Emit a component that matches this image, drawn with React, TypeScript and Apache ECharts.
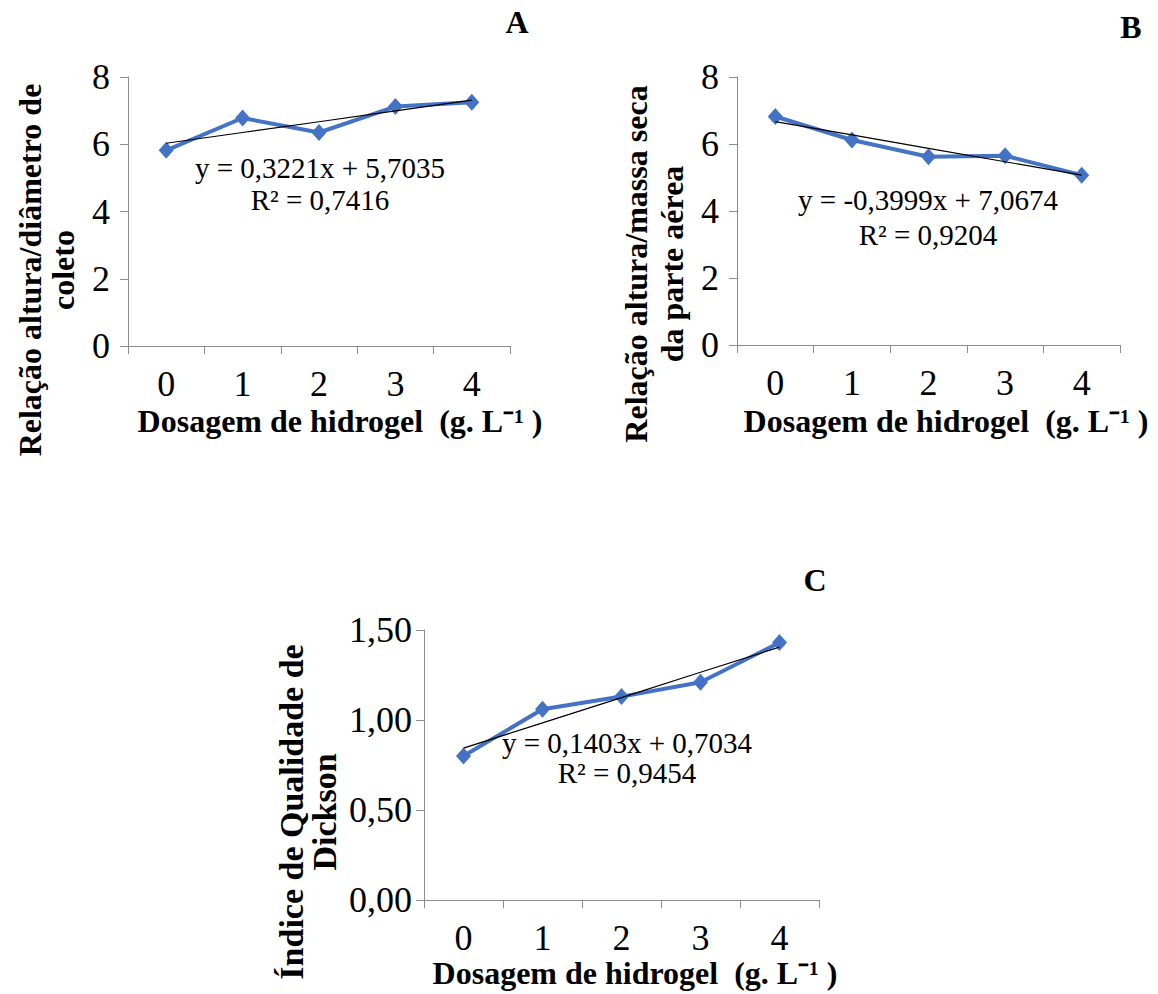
import React, { useEffect, useRef } from "react";
import * as echarts from "echarts";

const categories = ["0", "1", "2", "3", "4"];
const valuesA = [5.82, 6.78, 6.35, 7.12, 7.25];
const trendA = [6.03, 6.35, 6.67, 6.99, 7.31];
const valuesB = [6.82, 6.12, 5.62, 5.65, 5.07];
const trendB = [6.67, 6.27, 5.87, 5.47, 5.07];
const valuesC = [0.8, 1.06, 1.13, 1.21, 1.43];
const trendC = [0.844, 0.984, 1.124, 1.265, 1.405];

const eqA = ["y = 0,3221x + 5,7035", "R² = 0,7416"];
const eqB = ["y = -0,3999x + 7,0674", "R² = 0,9204"];
const eqC = ["y = 0,1403x + 0,7034", "R² = 0,9454"];

const xTitle = "Dosagem de hidrogel  (g. L⁻¹ )";
const yTitleA = "Relação altura/diâmetro de\ncoleto";
const yTitleB = "Relação altura/massa seca\nda parte aérea";
const yTitleC = "Índice de Qualidade de\nDickson";

const SERIF = "Liberation Serif";
const AXIS_COLOR = "#8c8c8c";
const BLUE = "#4472C4";

export default function App() {
  const ref = useRef<HTMLDivElement>(null);

  useEffect(() => {
    if (!ref.current) return;
    const chart = echarts.init(ref.current, null, { renderer: "svg" });

    const grids = [
      { left: 128, top: 77, width: 382, height: 269 },
      { left: 737, top: 77, width: 383, height: 268 },
      { left: 424, top: 630, width: 395, height: 270 },
    ];

    const labelStyle = { color: "#000", fontSize: 36, fontFamily: SERIF, fontWeight: "normal" };

    const xAxis = grids.map((_, i) => ({
      type: "category",
      gridIndex: i,
      data: categories,
      boundaryGap: true,
      axisLine: { show: true, lineStyle: { color: AXIS_COLOR, width: 1 } },
      axisTick: { show: true, length: 8, lineStyle: { color: AXIS_COLOR } },
      axisLabel: { ...labelStyle, margin: 20 },
      splitLine: { show: false },
    }));

    const yCommon = {
      type: "value",
      min: 0,
      axisLine: { show: true, lineStyle: { color: AXIS_COLOR, width: 1 } },
      axisTick: { show: true, length: 8, lineStyle: { color: AXIS_COLOR } },
      splitLine: { show: false },
    };
    const yAxis = [
      { ...yCommon, gridIndex: 0, max: 8, interval: 2, axisLabel: { ...labelStyle, margin: 18 } },
      { ...yCommon, gridIndex: 1, max: 8, interval: 2, axisLabel: { ...labelStyle, margin: 18 } },
      {
        ...yCommon,
        gridIndex: 2,
        max: 1.5,
        interval: 0.5,
        axisLabel: {
          ...labelStyle,
          margin: 12,
          formatter: (v: number) => v.toFixed(2).replace(".", ","),
        },
      },
    ];

    const dataSets = [
      [valuesA, trendA],
      [valuesB, trendB],
      [valuesC, trendC],
    ];
    const series: any[] = [];
    dataSets.forEach(([vals, trend], i) => {
      series.push({
        type: "line",
        xAxisIndex: i,
        yAxisIndex: i,
        data: vals,
        symbol: "diamond",
        symbolSize: [15, 17],
        itemStyle: { color: BLUE },
        lineStyle: { color: BLUE, width: 4 },
        z: 2,
      });
      series.push({
        type: "line",
        xAxisIndex: i,
        yAxisIndex: i,
        data: trend,
        symbol: "none",
        lineStyle: { color: "#000", width: 1.2 },
        z: 3,
      });
    });

    const txt = (x: number, y: number, text: string, size: number, bold: boolean, rot = 0, lh = 30) => ({
      type: "text",
      x,
      y,
      rotation: rot,
      z: 10,
      style: {
        text,
        fill: "#000",
        fontSize: size,
        fontWeight: bold ? "bold" : "normal",
        fontFamily: SERIF,
        align: "center",
        verticalAlign: "middle",
        lineHeight: lh,
      },
    });

    const graphic = [
      txt(517, 22, "A", 32, true),
      txt(1131, 27, "B", 32, true),
      txt(815, 580, "C", 32, true),
      txt(340, 421, xTitle, 32, true),
      txt(946, 421, xTitle, 32, true),
      txt(635, 973, xTitle, 32, true),
      txt(46, 270, yTitleA, 32, true, Math.PI / 2, 33),
      txt(654, 264, yTitleB, 32, true, Math.PI / 2, 36),
      txt(308, 812, yTitleC, 34, true, Math.PI / 2, 33),
      txt(320, 168, eqA[0], 29, false),
      txt(320, 200, eqA[1], 29, false),
      txt(928, 200, eqB[0], 29, false),
      txt(928, 235, eqB[1], 29, false),
      txt(627, 743, eqC[0], 29, false),
      txt(627, 773, eqC[1], 29, false),
    ];

    chart.setOption({
      animation: false,
      backgroundColor: "#fff",
      grid: grids,
      xAxis,
      yAxis,
      series,
      graphic,
    });

    return () => chart.dispose();
  }, []);

  return (
    <div
      ref={ref}
      style={{ position: "absolute", left: 0, top: 0, width: 1158, height: 994 }}
    />
  );
}
